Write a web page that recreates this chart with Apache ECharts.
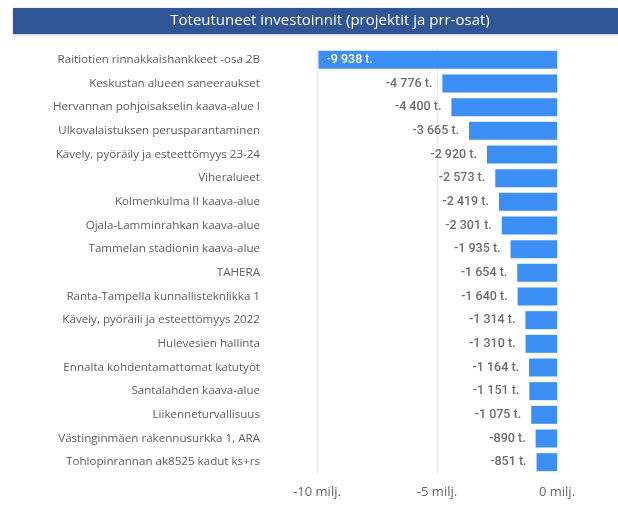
<!DOCTYPE html>
<html>
<head>
<meta charset="utf-8">
<script src="https://cdn.jsdelivr.net/npm/echarts@6/dist/echarts.min.js"></script>
<style>
  html, body { margin: 0; padding: 0; background: #fff; }
  #chart { width: 618px; height: 505px; }
</style>
</head>
<body>
<div id="chart"></div>
<script>
// hankkeet ylhäältä alas
const categories = [
  'Raitiotien rinnakkaishankkeet -osa 2B',
  'Keskustan alueen saneeraukset',
  'Hervannan pohjoisakselin kaava-alue I',
  'Ulkovalaistuksen perusparantaminen',
  'Kävely, pyöräily ja esteettömyys 23-24',
  'Viheralueet',
  'Kolmenkulma II kaava-alue',
  'Ojala-Lamminrahkan kaava-alue',
  'Tammelan stadionin kaava-alue',
  'TAHERA',
  'Ranta-Tampella kunnallistekniikka 1',
  'Kävely, pyöräili ja esteettömyys 2022',
  'Hulevesien hallinta',
  'Ennalta kohdentamattomat katutyöt',
  'Santalahden kaava-alue',
  'Liikenneturvallisuus',
  'Västinginmäen rakennusurkka 1, ARA',
  'Tohlopinrannan ak8525 kadut ks+rs'
];
// tuhatta euroa
const values = [-9938, -4776, -4400, -3665, -2920, -2573, -2419, -2301, -1935,
  -1654, -1640, -1314, -1310, -1164, -1151, -1075, -890, -851];
const tickValues = [-10000, -5000, 0];

function fmtT(v) {
  const s = Math.abs(v).toString().replace(/\B(?=(\d{3})+(?!\d))/g, ' ');
  return (v < 0 ? '-' : '') + s + ' t.';
}

const chart = echarts.init(document.getElementById('chart'));

const data = values.map((v, i) => {
  if (i === 0) {
    // pisin palkki: arvo palkin sisällä valkoisella
    return { value: v, label: { position: 'insideLeft', color: '#fff', distance: 8 } };
  }
  return v;
});

chart.setOption({
  animation: false,
  graphic: [
    {
      type: 'rect',
      shape: { x: 13, y: 8, width: 605, height: 26 },
      style: { fill: '#2e5596', shadowBlur: 3, shadowColor: 'rgba(0,0,0,0.25)', shadowOffsetY: 1 }
    },
    {
      type: 'text',
      x: 330, y: 21,
      style: {
        text: 'Toteutuneet investoinnit (projektit ja prr-osat)',
        fill: '#fff', font: '15px "Open Sans", sans-serif',
        align: 'center', verticalAlign: 'middle'
      }
    }
  ],
  grid: { left: 317, right: 61, top: 48, height: 426 },
  xAxis: {
    type: 'value',
    min: tickValues[0],
    max: tickValues[tickValues.length - 1],
    interval: 5000,
    axisLine: { show: false },
    axisTick: { show: false },
    splitLine: { lineStyle: { color: '#ececec' } },
    axisLabel: {
      color: '#666',
      fontSize: 13,
      fontFamily: 'Open Sans',
      margin: 12,
      formatter: v => (v / 1000) + ' milj.'
    }
  },
  yAxis: {
    type: 'category',
    inverse: true,
    data: categories,
    axisLine: { show: false },
    axisTick: { show: false },
    axisLabel: {
      color: '#606060',
      fontSize: 11.6,
      fontFamily: 'Open Sans',
      margin: 57
    }
  },
  series: [{
    type: 'bar',
    data: data,
    barCategoryGap: '24%',
    itemStyle: { color: '#3b8ef3' },
    label: {
      show: true,
      position: 'left',
      distance: 10,
      color: '#6e6e6e',
      fontSize: 12.5,
      fontWeight: 500,
      fontFamily: 'Roboto',
      formatter: p => fmtT(p.value)
    }
  }]
});
</script>
</body>
</html>
